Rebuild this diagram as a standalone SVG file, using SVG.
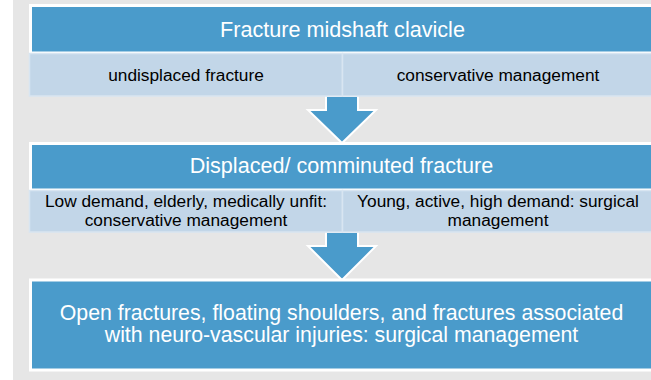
<svg xmlns="http://www.w3.org/2000/svg" width="651" height="380" viewBox="0 0 651 380">
<style>
.bg{fill:#e6e6e6}
.hdr{fill:#4a9bcb;stroke:#ffffff;stroke-width:3}
.sub{fill:#c2d6e8;stroke:#d8e5f1;stroke-width:1.5}
.arr{fill:#4a9bcb;stroke:#ffffff;stroke-width:2;stroke-linejoin:miter}
.ht{font-family:"Liberation Sans",Arial,sans-serif;font-size:21.6px;fill:#ffffff;text-anchor:middle}
.bt{font-family:"Liberation Sans",Arial,sans-serif;font-size:21.3px;fill:#ffffff;text-anchor:middle}
.st{font-family:"Liberation Sans",Arial,sans-serif;font-size:17.3px;fill:#000000;text-anchor:middle}
</style>
<rect class="bg" x="13" y="0" width="640" height="380"/>
<g id="connectors">
<polygon class="arr" points="326,96 358,96 358,110 376,110 342,143 308,110 326,110"/>
<polygon class="arr" points="326,232 358,232 358,246 376,246 342,280 308,246 326,246"/>
</g>
<g id="node1">
<rect class="hdr" x="30.5" y="5.5" width="640" height="47.5"/>
<text class="ht" x="342.5" y="37">Fracture midshaft clavicle</text>
</g>
<g id="node1a">
<rect class="sub" x="29.5" y="53.5" width="313" height="42.5"/>
<text class="st" x="186" y="80.7">undisplaced fracture</text>
</g>
<g id="node1b">
<rect class="sub" x="342.5" y="53.5" width="320" height="42.5"/>
<text class="st" x="498" y="80.7">conservative management</text>
</g>
<g id="node2">
<rect class="hdr" x="30.5" y="143.5" width="640" height="46.5"/>
<text class="ht" x="341.5" y="173.3">Displaced/ comminuted fracture</text>
</g>
<g id="node2a">
<rect class="sub" x="29.5" y="190.5" width="313" height="41.5"/>
<text class="st" x="186" y="207.3">Low demand, elderly, medically unfit:</text>
<text class="st" x="186" y="225.7">conservative management</text>
</g>
<g id="node2b">
<rect class="sub" x="342.5" y="190.5" width="320" height="41.5"/>
<text class="st" x="498" y="207.3">Young, active, high demand: surgical</text>
<text class="st" x="498" y="225.7">management</text>
</g>
<g id="node3">
<rect class="hdr" x="30.5" y="280" width="640" height="90"/>
<text class="bt" x="341.5" y="319.6">Open fractures, floating shoulders, and fractures associated</text>
<text class="bt" x="341.5" y="342">with neuro-vascular injuries: surgical management</text>
</g>
</svg>
